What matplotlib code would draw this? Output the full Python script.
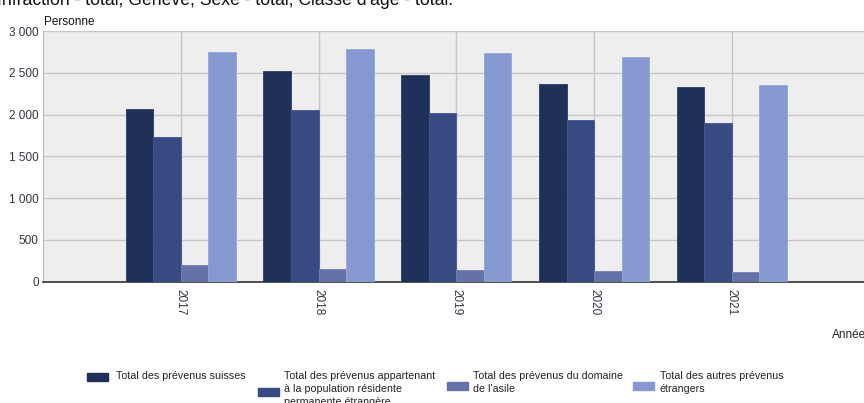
import numpy as np
import matplotlib
matplotlib.use("Agg")
import matplotlib.pyplot as plt

plt.rcParams['font.family'] = ['Liberation Sans', 'DejaVu Sans']

years = ['2017', '2018', '2019', '2020', '2021']
suisses = [2063, 2521, 2473, 2369, 2333]
residents = [1732, 2051, 2015, 1935, 1895]
asile = [203, 148, 136, 124, 112]
autres = [2752, 2788, 2733, 2685, 2354]

series = [suisses, residents, asile, autres]
labels = ['Total des prévenus suisses',
          'Total des prévenus appartenant\nà la population résidente\npermanente étrangère',
          'Total des prévenus du domaine\nde l\'asile',
          'Total des autres prévenus\nétrangers']
colors = ['#1f3158', '#384a82', '#6572a8', '#8598d0']
edges = ['#2c3d66', '#44568c', '#7280b2', '#95a6d8']

W, H = 864, 403
fig = plt.figure(figsize=(W / 100, H / 100), dpi=100)
ax = fig.add_axes([43 / W, (H - 281.7) / H, (869.7 - 43) / W, 250.7 / H])
ax.set_facecolor('#eeeeee')

x = np.arange(len(years))
w = 0.2
for i, vals in enumerate(series):
    ax.bar(x + (i - 1.5) * w, vals, w, color=colors[i], edgecolor=edges[i],
           linewidth=0.6, zorder=3)

ax.set_xlim(-1, 5)
ax.set_ylim(0, 3000)
ax.set_yticks(np.arange(0, 3001, 500))
ax.set_yticklabels([f'{v:,}'.replace(',', ' ') for v in range(0, 3001, 500)])
ax.set_xticks(x)
ax.set_xticklabels(years, rotation=270, va='top', ha='center')
ax.tick_params(axis='both', length=0, labelsize=8.5, colors='#333344')
ax.tick_params(axis='x', pad=5)
ax.tick_params(axis='y', pad=3)
ax.grid(True, color='#c6c6c6', linewidth=1, zorder=0)
ax.set_axisbelow(True)
for s in ['top', 'right']:
    ax.spines[s].set_visible(False)
ax.spines['left'].set_color('#bbbbbb')
ax.spines['bottom'].set_color('#333333')
ax.spines['bottom'].set_linewidth(1.2)

fig.text(-3 / W, 1 - 5 / H, "Infraction - total, Genève, Sexe - total, Classe d'âge - total.",
         fontsize=12.7, va='baseline', ha='left', color='#111111')
fig.text(44 / W, 1 - 22 / H, 'Personne', fontsize=8.5, va='center', ha='left', color='#111111')
fig.text(832 / W, 1 - 335 / H, 'Année', fontsize=8.5, va='center', ha='left', color='#222222')

# legend drawn by hand to follow the original layout
boxes = [(87.3, 373.3), (258.3, 388), (446.7, 381.7), (633.3, 381.7)]
texts = [(116, 377.3), (284, 376.7), (472.7, 376.7), (660, 376.7)]
for i in range(4):
    bx, by = boxes[i]
    fig.patches.append(plt.Rectangle((bx / W, 1 - (by + 7.8) / H), 21 / W, 7.8 / H,
                                     transform=fig.transFigure, color=colors[i]))
    tx, ty = texts[i]
    fig.text(tx / W, 1 - (ty - 6) / H, labels[i], fontsize=7.7, va='top', ha='left',
             color='#222222', linespacing=1.38)

fig.savefig('out.png', dpi=100)
